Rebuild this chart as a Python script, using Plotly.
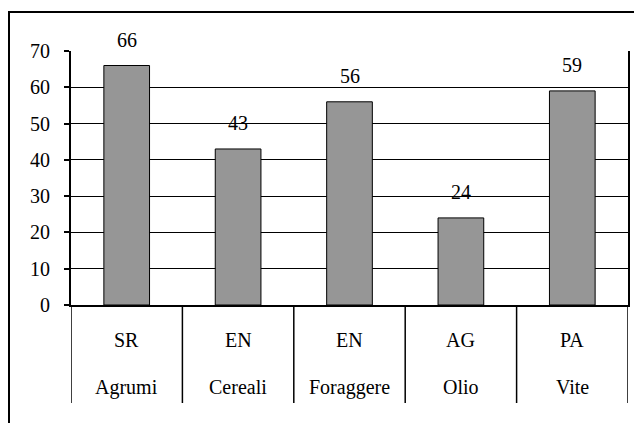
import plotly.graph_objects as go

# data
crops = ["Agrumi", "Cereali", "Foraggere", "Olio", "Vite"]
provinces = ["SR", "EN", "EN", "AG", "PA"]
values = [66, 43, 56, 24, 59]
y_ticks = [0, 10, 20, 30, 40, 50, 60, 70]

_FONT = "Times New Roman, Liberation Serif, DejaVu Serif, serif"
_FS = 20

fig = go.Figure(
    go.Bar(
        x=crops,
        y=values,
        width=0.41,
        marker=dict(color="#969696", line=dict(color="black", width=1)),
        hoverinfo="x+y",
    )
)

# value labels above bars
for c, v in zip(crops, values):
    fig.add_annotation(
        x=c, y=v, text=str(v), showarrow=False,
        yanchor="middle", yshift=26,
        font=dict(family=_FONT, size=_FS, color="black"),
    )

# two rows of category labels under the axis
for c, p in zip(crops, provinces):
    fig.add_annotation(
        x=c, y=0, text=p, showarrow=False,
        yanchor="middle", yshift=-35,
        font=dict(family=_FONT, size=_FS, color="black"),
    )
    fig.add_annotation(
        x=c, y=0, text=c, showarrow=False,
        yanchor="middle", yshift=-82,
        font=dict(family=_FONT, size=_FS, color="black"),
    )

# vertical dividers between categories (below the axis)
for i in range(len(crops) + 1):
    fig.add_shape(
        type="line", xref="x", yref="paper",
        x0=i - 0.5, x1=i - 0.5, y0=0, y1=-98 / 254,
        line=dict(color="black", width=1.5),
    )

# outer chart frame
fig.add_shape(
    type="rect", xref="paper", yref="paper",
    x0=-62 / 557, x1=1.2, y0=-0.6, y1=1 + 39 / 254,
    line=dict(color="black", width=2),
)

# page body adds an 8px offset, so margins are 8px smaller on top/left
fig.update_layout(
    width=642, height=423,
    margin=dict(l=63, r=22, t=43, b=126),
    paper_bgcolor="white", plot_bgcolor="white",
    font=dict(family=_FONT, size=_FS, color="black"),
    showlegend=False,
    bargap=0.59,
)
fig.update_xaxes(
    type="category", range=[-0.5, len(crops) - 0.5],
    showticklabels=False, ticks="",
    showline=True, linecolor="black", linewidth=1.5,
    showgrid=False, zeroline=False,
)
fig.update_yaxes(
    range=[0, 70], tickvals=y_ticks,
    ticks="outside", ticklen=5, tickcolor="black", tickwidth=1.5,
    ticklabelstandoff=10,
    showline=True, linecolor="black", linewidth=2, mirror=True,
    showgrid=True, gridcolor="black", gridwidth=1,
    zeroline=False,
)

fig.write_html("out.html")
